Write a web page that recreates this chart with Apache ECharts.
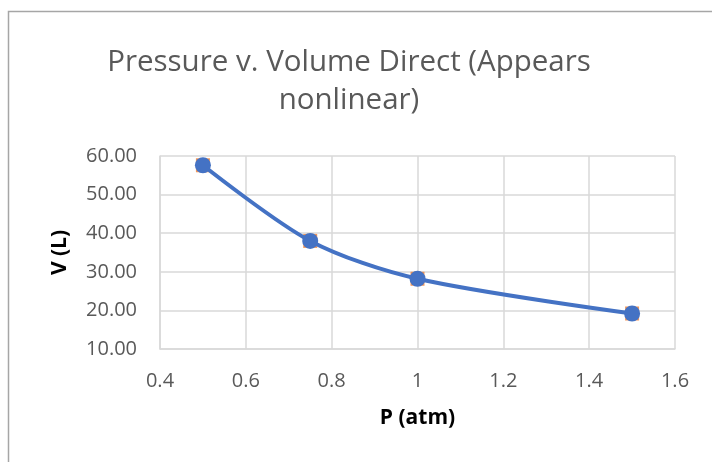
<!DOCTYPE html>
<html><head><meta charset="utf-8">
<script src="https://cdn.jsdelivr.net/npm/echarts@6/dist/echarts.min.js"></script>
<style>html,body{margin:0;padding:0;background:#fff}#c{width:712px;height:462px}</style>
</head><body><div id="c"></div>
<script>
var pressure = [0.5, 0.75, 1, 1.5];
var volume = [57.6, 38.0, 28.2, 19.2];
var titleText = 'Pressure v. Volume Direct (Appears\nnonlinear)';
var xName = 'P (atm)';
var yName = 'V (L)';

var pts = pressure.map(function(p, i){ return [p, volume[i]]; });
var chart = echarts.init(document.getElementById('c'));
var font = 'Open Sans, Noto Sans, sans-serif';
chart.setOption({
  animation: false,
  graphic: [{type:'rect', shape:{x:8.5,y:11.5,width:900,height:700}, style:{fill:'none', stroke:'#a6a6a6', lineWidth:1.5}, silent:true}],
  title: {text: titleText, left: 344, textAlign:'center', top: 39,
    textStyle:{fontFamily:font, fontSize:29.5, fontWeight:'normal', color:'#595959', lineHeight:38}},
  grid: {left:160, right:37, top:156, bottom:113},
  xAxis: {type:'value', min:0.4, max:1.6, interval:0.2, name:xName, nameLocation:'middle', nameGap:59,
    nameTextStyle:{fontFamily:font, fontSize:21, fontWeight:'bold', color:'#000'},
    axisLine:{lineStyle:{color:'#d9d9d9', width:1.5}}, axisTick:{show:false},
    axisLabel:{fontFamily:font, fontSize:20, color:'#595959', margin:22, formatter:function(v){return String(Math.round(v*10)/10);}},
    splitLine:{lineStyle:{color:'#d9d9d9', width:1.5}}},
  yAxis: {type:'value', min:10, max:60, interval:10, name:yName, nameLocation:'middle', nameGap:89,
    nameTextStyle:{fontFamily:font, fontSize:21, fontWeight:'bold', color:'#000'},
    axisLine:{show:true, lineStyle:{color:'#d9d9d9', width:1.5}}, axisTick:{show:false},
    axisLabel:{fontFamily:font, fontSize:20, color:'#595959', margin:23, formatter:function(v){return v.toFixed(2);}},
    splitLine:{lineStyle:{color:'#d9d9d9', width:1.5}}},
  series: [
    {type:'scatter', data:pts, symbol:'rect', symbolSize:14, itemStyle:{color:'#ED7D31'}, z:2},
    {type:'line', data:pts, smooth:0.3, symbol:'circle', symbolSize:16, showSymbol:true,
      lineStyle:{color:'#4472C4', width:4}, itemStyle:{color:'#4472C4'}, z:3}
  ]
});
</script></body></html>
